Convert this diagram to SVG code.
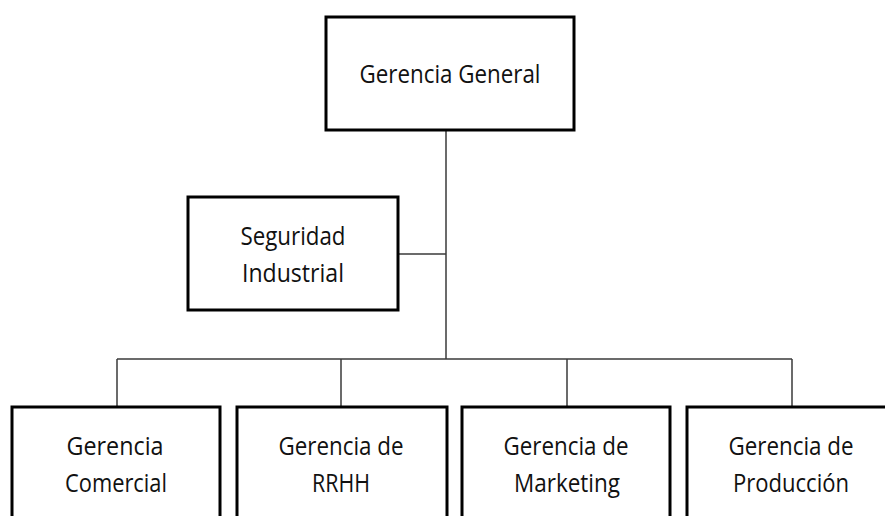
<svg xmlns="http://www.w3.org/2000/svg" width="885" height="516" viewBox="0 0 885 516">
  <style>
    .box { fill: #ffffff; stroke: #000000; stroke-width: 3; }
    .link { fill: none; stroke: #3a3a3a; stroke-width: 1.5; }
    .label { font-family: "Open Sans", "Noto Sans", "Liberation Sans", sans-serif; font-size: 25px; fill: #111111; text-anchor: middle; }
  </style>
  <rect width="885" height="516" fill="#ffffff"/>

  <!-- connectors -->
  <g id="connectors">
    <path class="link" d="M446,130 V359"/>
    <path class="link" d="M398,254 H446"/>
    <path class="link" d="M117,359 H792"/>
    <path class="link" d="M117,359 V407"/>
    <path class="link" d="M341,359 V407"/>
    <path class="link" d="M567,359 V407"/>
    <path class="link" d="M792,359 V407"/>
  </g>

  <g id="gerencia-general">
    <rect class="box" x="326" y="17" width="248" height="113"/>
    <text class="label" x="450" y="83" textLength="181" lengthAdjust="spacingAndGlyphs">Gerencia General</text>
  </g>

  <g id="seguridad-industrial">
    <rect class="box" x="188" y="197" width="210" height="113"/>
    <text class="label" x="293" y="245" textLength="105" lengthAdjust="spacingAndGlyphs">Seguridad</text>
    <text class="label" x="293" y="282" textLength="102" lengthAdjust="spacingAndGlyphs">Industrial</text>
  </g>

  <g id="gerencia-comercial">
    <rect class="box" x="12" y="407" width="208" height="120"/>
    <text class="label" x="115" y="455" textLength="97" lengthAdjust="spacingAndGlyphs">Gerencia</text>
    <text class="label" x="116" y="492" textLength="102" lengthAdjust="spacingAndGlyphs">Comercial</text>
  </g>

  <g id="gerencia-rrhh">
    <rect class="box" x="237" y="407" width="210" height="120"/>
    <text class="label" x="341" y="455" textLength="125" lengthAdjust="spacingAndGlyphs">Gerencia de</text>
    <text class="label" x="341" y="492" textLength="58" lengthAdjust="spacingAndGlyphs">RRHH</text>
  </g>

  <g id="gerencia-marketing">
    <rect class="box" x="462" y="407" width="208" height="120"/>
    <text class="label" x="566" y="455" textLength="125" lengthAdjust="spacingAndGlyphs">Gerencia de</text>
    <text class="label" x="567" y="492" textLength="106" lengthAdjust="spacingAndGlyphs">Marketing</text>
  </g>

  <g id="gerencia-produccion">
    <rect class="box" x="687" y="407" width="210" height="120"/>
    <text class="label" x="791" y="455" textLength="125" lengthAdjust="spacingAndGlyphs">Gerencia de</text>
    <text class="label" x="791" y="492" textLength="116" lengthAdjust="spacingAndGlyphs">Producción</text>
  </g>
</svg>
